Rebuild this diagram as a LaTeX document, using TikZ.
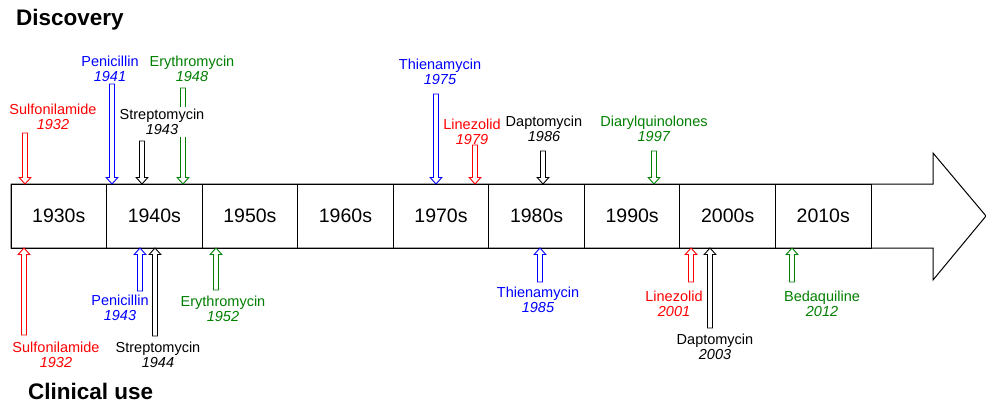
\documentclass[tikz,border=0pt]{standalone}
\usepackage{fontspec}
\setmainfont{Liberation Sans}
\usetikzlibrary{calc}
\definecolor{dgreen}{RGB}{0,128,0}
\definecolor{dblue}{RGB}{0,0,255}
\definecolor{dred}{RGB}{255,0,0}
\tikzset{
  decade/.style={draw=black, line width=0.9pt, minimum width=95.56pt, minimum height=64pt, inner sep=0pt, font=\fontsize{19.5}{22}\selectfont},
  lab/.style={fill=white, align=center, inner sep=2pt, font=\fontsize{14.5}{15}\selectfont},
  ttl/.style={font=\fontsize{22.5}{26}\selectfont\bfseries, inner sep=0pt},
  harr/.style={fill=white, line width=0.9pt, line join=miter}
}
\newcommand\hollowarrow[3]{%
  \path (#2) coordinate (hs) (#3) coordinate (ht) ($(ht)!6.5pt!(hs)$) coordinate (hb);
  \draw[harr, draw=#1] ($(hs)!2.5pt!90:(ht)$) -- ($(hb)!2.5pt!-90:(hs)$) -- ($(hb)!5.8pt!-90:(hs)$) -- (ht)
    -- ($(hb)!5.8pt!90:(hs)$) -- ($(hb)!2.5pt!90:(hs)$) -- ($(hs)!2.5pt!-90:(ht)$) -- cycle;
}
\begin{document}
\begin{tikzpicture}[x=1pt,y=-1pt]
\useasboundingbox (0,0) rectangle (986,404);
% big arrow
\draw[line width=1pt, line join=miter] (11,184) -- (933,184) -- (933,153) -- (986,216) -- (933,280) -- (933,248) -- (11,248) -- cycle;
\foreach \i/\lbl in {0/1930s,1/1940s,2/1950s,3/1960s,4/1970s,5/1980s,6/1990s,7/2000s,8/2010s}{
  \node[decade] (d\i) at ({11+95.56*\i+47.78},216) {\lbl};
}
% titles
\node[ttl, anchor=base west] (disc) at (16,26) {Discovery};
\node[ttl, anchor=base west] (clin) at (28,399) {Clinical use};
% coordinates for arrows (top)
\coordinate (t1s) at (25,133);  \coordinate (t1e) at (25,184);
\coordinate (t2s) at (112,84);  \coordinate (t2e) at (112,184);
\coordinate (t3s) at (142,141); \coordinate (t3e) at (142,184);
\coordinate (t4s) at (183,88);  \coordinate (t4e) at (183,184);
\coordinate (t5s) at (436,94);  \coordinate (t5e) at (436,184);
\coordinate (t6s) at (475,145); \coordinate (t6e) at (475,184);
\coordinate (t7s) at (543,151); \coordinate (t7e) at (543,184);
\coordinate (t8s) at (654,151); \coordinate (t8e) at (654,184);
% bottom
\coordinate (b1s) at (24,335);  \coordinate (b1e) at (24,248);
\coordinate (b2s) at (140,291); \coordinate (b2e) at (140,248);
\coordinate (b3s) at (155,336); \coordinate (b3e) at (155,248);
\coordinate (b4s) at (216,290); \coordinate (b4e) at (216,248);
\coordinate (b5s) at (540,282); \coordinate (b5e) at (540,248);
\coordinate (b6s) at (691,282); \coordinate (b6e) at (691,248);
\coordinate (b7s) at (710,328); \coordinate (b7e) at (710,248);
\coordinate (b8s) at (792,282); \coordinate (b8e) at (792,248);
% arrows
\hollowarrow{dred}{t1s}{t1e}
\hollowarrow{dblue}{t2s}{t2e}
\hollowarrow{black}{t3s}{t3e}
\hollowarrow{dgreen}{t4s}{t4e}
\hollowarrow{dblue}{t5s}{t5e}
\hollowarrow{dred}{t6s}{t6e}
\hollowarrow{black}{t7s}{t7e}
\hollowarrow{dgreen}{t8s}{t8e}
\hollowarrow{dred}{b1s}{b1e}
\hollowarrow{dblue}{b2s}{b2e}
\hollowarrow{black}{b3s}{b3e}
\hollowarrow{dgreen}{b4s}{b4e}
\hollowarrow{dblue}{b5s}{b5e}
\hollowarrow{dred}{b6s}{b6e}
\hollowarrow{black}{b7s}{b7e}
\hollowarrow{dgreen}{b8s}{b8e}
% labels top
\node[lab, text=dred] (l1) at (53,116.5) {Sulfonilamide\\\textit{1932}};
\node[lab, text=dblue] (l2) at (110,68.5) {Penicillin\\\textit{1941}};
\node[lab, text=black] (l3) at (162,122) {Streptomycin\\\textit{1943}};
\node[lab, text=dgreen] (l4) at (192,68.5) {Erythromycin\\\textit{1948}};
\node[lab, text=dblue] (l5) at (440,72) {Thienamycin\\\textit{1975}};
\node[lab, text=dred, fill=none] (l6) at (472,131.5) {Linezolid\\\textit{1979}};
\node[lab, text=black] (l7) at (544,129) {Daptomycin\\\textit{1986}};
\node[lab, text=dgreen] (l8) at (654,129) {Diarylquinolones\\\textit{1997}};
% labels bottom
\node[lab, text=dred] (m1) at (56,354.5) {Sulfonilamide\\\textit{1932}};
\node[lab, text=dblue] (m2) at (120,308) {Penicillin\\\textit{1943}};
\node[lab, text=black] (m3) at (158,354.5) {Streptomycin\\\textit{1944}};
\node[lab, text=dgreen] (m4) at (223,308.5) {Erythromycin\\\textit{1952}};
\node[lab, text=dblue] (m5) at (538,300) {Thienamycin\\\textit{1985}};
\node[lab, text=dred] (m6) at (674,304) {Linezolid\\\textit{2001}};
\node[lab, text=black] (m7) at (715,346.5) {Daptomycin\\\textit{2003}};
\node[lab, text=dgreen] (m8) at (822,304) {Bedaquiline\\\textit{2012}};
\end{tikzpicture}
\end{document}
